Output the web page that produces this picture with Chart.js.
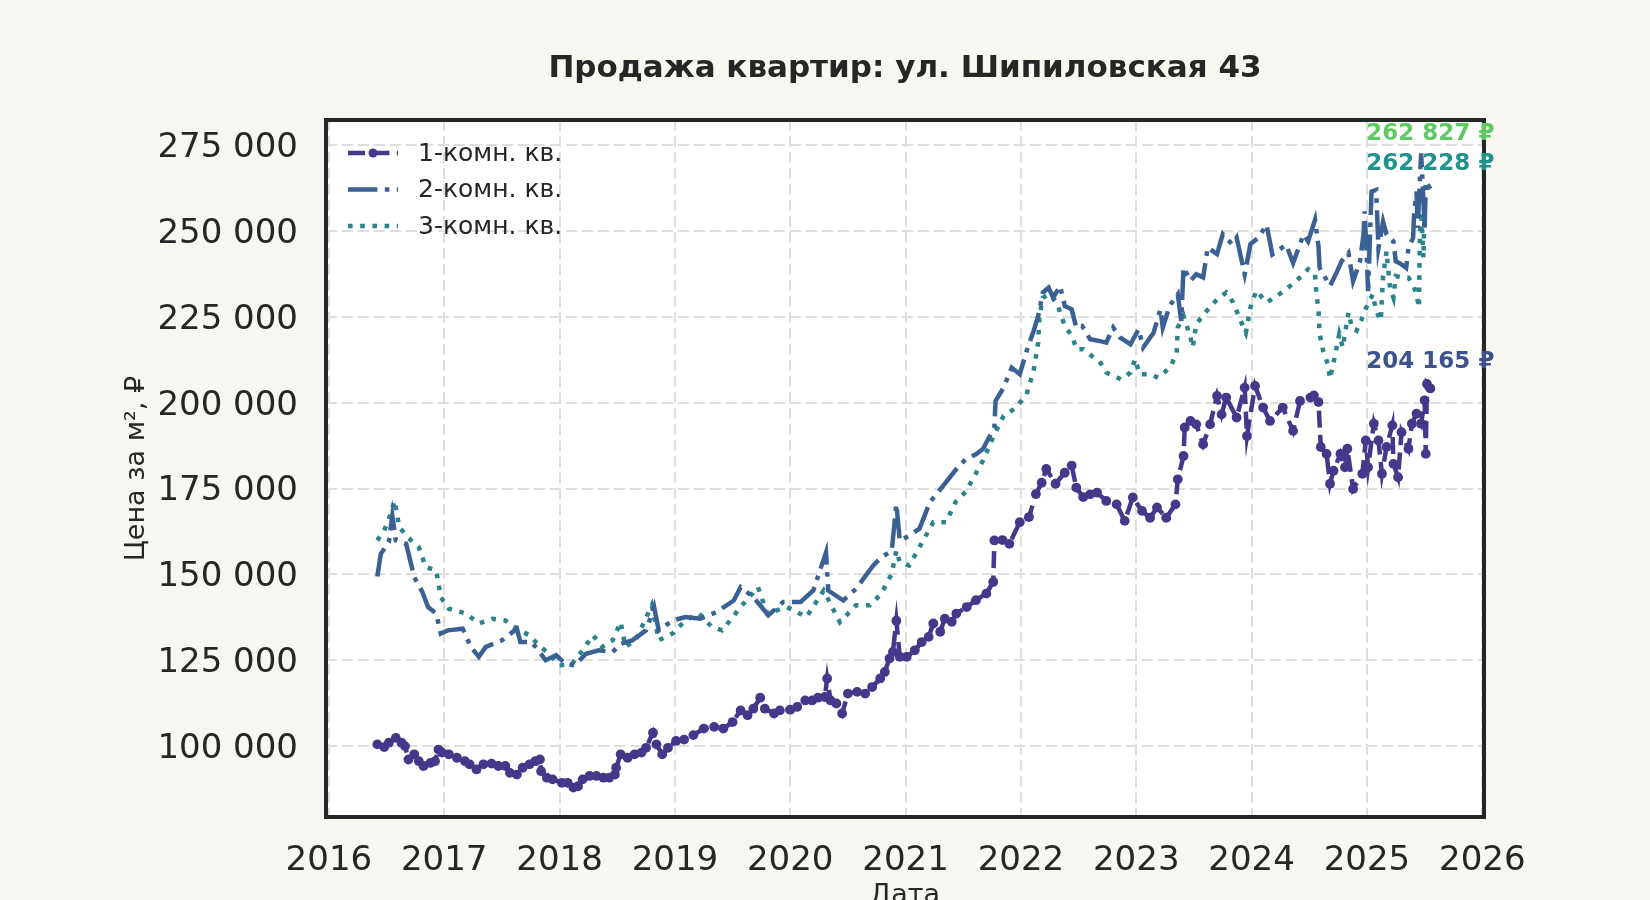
<!DOCTYPE html>
<html>
<head>
<meta charset="utf-8">
<script src="https://cdn.jsdelivr.net/npm/chart.js@4.4.1/dist/chart.umd.min.js"></script>
<style>
  html, body { margin: 0; padding: 0; background: #f7f6f1; }
  canvas { display: block; }
</style>
</head>
<body>
<canvas id="grafico" width="1650" height="900"></canvas>
<script>
// Даты (доля года) и цены за м² по типам квартир
const fechas1 = [2016.42, 2016.48, 2016.52, 2016.58, 2016.63, 2016.66, 2016.69, 2016.74, 2016.78, 2016.82,
  2016.88, 2016.92, 2016.95, 2016.98, 2017.04, 2017.11, 2017.18, 2017.22, 2017.28, 2017.34,
  2017.41, 2017.47, 2017.53, 2017.57, 2017.63, 2017.68, 2017.74, 2017.79, 2017.83, 2017.84,
  2017.89, 2017.94, 2018.02, 2018.07, 2018.12, 2018.16, 2018.20, 2018.26, 2018.32, 2018.38,
  2018.43, 2018.48, 2018.49, 2018.53, 2018.59, 2018.65, 2018.71, 2018.75, 2018.81, 2018.84,
  2018.89, 2018.94, 2019.01, 2019.08, 2019.16, 2019.25, 2019.34, 2019.42, 2019.50, 2019.57,
  2019.63, 2019.68, 2019.74, 2019.78, 2019.86, 2019.91, 2020.00, 2020.06, 2020.13, 2020.19,
  2020.24, 2020.30, 2020.32, 2020.35, 2020.40, 2020.45, 2020.50, 2020.58, 2020.65, 2020.71,
  2020.78, 2020.82, 2020.86, 2020.89, 2020.92, 2020.95, 2021.01, 2021.08, 2021.14, 2021.20,
  2021.24, 2021.30, 2021.34, 2021.40, 2021.44, 2021.53, 2021.61, 2021.70, 2021.76, 2021.77,
  2021.84, 2021.90, 2021.99, 2022.07, 2022.13, 2022.18, 2022.22, 2022.30, 2022.38, 2022.44,
  2022.48, 2022.54, 2022.60, 2022.66, 2022.74, 2022.83, 2022.90, 2022.97, 2023.05, 2023.12,
  2023.18, 2023.26, 2023.34, 2023.36, 2023.41, 2023.42, 2023.47, 2023.52, 2023.58, 2023.64,
  2023.70, 2023.74, 2023.78, 2023.87, 2023.94, 2023.96, 2024.03, 2024.10, 2024.16, 2024.27,
  2024.36, 2024.42, 2024.51, 2024.54, 2024.58, 2024.60, 2024.65, 2024.68, 2024.71, 2024.77,
  2024.81, 2024.83, 2024.88, 2024.96, 2024.99, 2025.01, 2025.06, 2025.10, 2025.13, 2025.17,
  2025.22, 2025.23, 2025.27, 2025.30, 2025.36, 2025.39, 2025.43, 2025.47, 2025.50, 2025.51,
  2025.52, 2025.55];
const precios1 = [100500, 99700, 101000, 102400, 101000, 100000, 96100, 97600, 95600, 94200,
  95100, 95600, 99000, 98100, 97600, 96600, 95600, 94700, 93200, 94700,
  94900, 94200, 94200, 92200, 91700, 93700, 94700, 95600, 96100, 92700,
  90800, 90300, 89300, 89300, 87900, 88300, 90300, 91300, 91300, 90800,
  90800, 91700, 93700, 97600, 96600, 97600, 98100, 99500, 103900, 100500,
  97600, 99500, 101500, 101900, 103200, 105100, 105600, 105100, 107000, 110400,
  109000, 110900, 114100, 110900, 109500, 110400, 110600, 111400, 113300, 113300,
  114100, 114300, 119700, 113300, 112400, 109500, 115300, 115800, 115300, 117200,
  119700, 121600, 125500, 127400, 136500, 126000, 126000, 127900, 130300, 131800,
  135700, 133300, 137100, 136200, 138600, 140500, 142500, 144400, 147800, 159900,
  160000, 158900, 165200, 166700, 173400, 176700, 180700, 176400, 179600, 181700,
  175300, 172500, 173300, 173800, 171400, 170400, 165600, 172400, 168500, 166500,
  169500, 166500, 170400, 177700, 184500, 192800, 194700, 193700, 187900, 193700,
  202000, 196600, 201500, 195700, 204400, 190300, 204900, 198600, 194700, 198600,
  191800, 200500, 201500, 202100, 200200, 187100, 185100, 176400, 180200, 185100,
  181200, 186600, 174900, 179300, 189000, 181200, 193900, 189000, 179300, 187100,
  193400, 182200, 178300, 191400, 186600, 193900, 196800, 193900, 200700, 185100,
  205500, 204165];

const fechas2 = [2016.42, 2016.45, 2016.52, 2016.55, 2016.58, 2016.67, 2016.74, 2016.81, 2016.86, 2016.93,
  2016.97, 2017.03, 2017.16, 2017.23, 2017.30, 2017.36, 2017.50, 2017.63, 2017.66, 2017.76,
  2017.88, 2017.97, 2018.05, 2018.13, 2018.23, 2018.34, 2018.46, 2018.53, 2018.63, 2018.75,
  2018.82, 2018.86, 2018.98, 2019.09, 2019.22, 2019.36, 2019.51, 2019.57, 2019.68, 2019.81,
  2019.94, 2020.09, 2020.20, 2020.31, 2020.33, 2020.46, 2020.57, 2020.72, 2020.79, 2020.88,
  2020.92, 2020.95, 2021.03, 2021.12, 2021.21, 2021.34, 2021.44, 2021.52, 2021.61, 2021.67,
  2021.77, 2021.78, 2021.85, 2021.92, 2021.99, 2022.05, 2022.11, 2022.15, 2022.19, 2022.24,
  2022.28, 2022.34, 2022.38, 2022.44, 2022.48, 2022.53, 2022.60, 2022.68, 2022.74, 2022.80,
  2022.86, 2022.95, 2023.02, 2023.06, 2023.15, 2023.21, 2023.23, 2023.29, 2023.36, 2023.39,
  2023.41, 2023.47, 2023.52, 2023.58, 2023.62, 2023.70, 2023.75, 2023.83, 2023.87, 2023.94,
  2023.99, 2024.06, 2024.13, 2024.18, 2024.30, 2024.36, 2024.45, 2024.49, 2024.55, 2024.58,
  2024.59, 2024.68, 2024.73, 2024.78, 2024.84, 2024.88, 2024.94, 2024.97, 2024.98, 2025.00,
  2025.01, 2025.04, 2025.08, 2025.10, 2025.14, 2025.17, 2025.23, 2025.25, 2025.30, 2025.34,
  2025.36, 2025.40, 2025.41, 2025.43, 2025.44, 2025.46, 2025.47, 2025.49, 2025.50, 2025.51,
  2025.55];
const precios2 = [149400, 156000, 159400, 167100, 159900, 158900, 149200, 144900, 140500, 138600,
  132800, 133700, 134200, 128900, 126000, 128900, 130800, 134200, 130300, 130300,
  125000, 126500, 124000, 123500, 126900, 127900, 127400, 129800, 130800, 133700,
  140500, 133700, 136600, 137600, 137100, 139000, 142400, 146300, 143400, 138100,
  142000, 142000, 145300, 156400, 145300, 142400, 145800, 152600, 155000, 156900,
  170500, 159800, 161300, 163300, 171000, 176400, 180700, 183500, 185000, 186500,
  192800, 200500, 204400, 210200, 208300, 215100, 220900, 225300, 232100, 233500,
  230600, 234000, 228200, 227200, 221900, 222400, 218500, 218000, 217500, 221900,
  219000, 217000, 221400, 216100, 220400, 227200, 221900, 228200, 231600, 223800,
  239400, 235500, 237400, 236500, 245200, 243300, 249100, 246200, 248100, 237400,
  246200, 248100, 251800, 243200, 246000, 240700, 249000, 247000, 253300, 245600,
  239300, 234000, 237400, 241200, 243600, 235400, 241200, 249000, 255700, 241200,
  232500, 261500, 262000, 245100, 252800, 249000, 247000, 241200, 240300, 239300,
  245100, 248000, 255700, 261500, 250900, 265400, 272600, 258600, 250000, 264400,
  262228];

const fechas3 = [2016.42, 2016.48, 2016.54, 2016.57, 2016.61, 2016.68, 2016.78, 2016.84, 2016.93, 2016.97,
  2017.04, 2017.19, 2017.30, 2017.42, 2017.53, 2017.65, 2017.74, 2017.82, 2017.91, 2018.00,
  2018.11, 2018.20, 2018.29, 2018.37, 2018.46, 2018.53, 2018.57, 2018.66, 2018.80, 2018.86,
  2018.98, 2019.09, 2019.21, 2019.32, 2019.41, 2019.57, 2019.72, 2019.80, 2019.97, 2020.14,
  2020.29, 2020.43, 2020.57, 2020.69, 2020.79, 2020.88, 2020.92, 2020.95, 2021.03, 2021.12,
  2021.24, 2021.35, 2021.44, 2021.52, 2021.67, 2021.77, 2021.85, 2021.96, 2022.05, 2022.11,
  2022.15, 2022.16, 2022.19, 2022.25, 2022.31, 2022.38, 2022.45, 2022.48, 2022.54, 2022.63,
  2022.68, 2022.74, 2022.87, 2022.95, 2022.99, 2023.03, 2023.12, 2023.19, 2023.29, 2023.35,
  2023.36, 2023.41, 2023.47, 2023.49, 2023.52, 2023.61, 2023.70, 2023.78, 2023.84, 2023.90,
  2023.95, 2023.99, 2024.04, 2024.13, 2024.22, 2024.30, 2024.39, 2024.49, 2024.55, 2024.56,
  2024.58, 2024.59, 2024.62, 2024.66, 2024.68, 2024.72, 2024.76, 2024.79, 2024.84, 2024.87,
  2024.91, 2024.95, 2024.98, 2025.01, 2025.05, 2025.08, 2025.12, 2025.14, 2025.17, 2025.20,
  2025.23, 2025.25, 2025.31, 2025.36, 2025.40, 2025.43, 2025.45, 2025.46, 2025.47, 2025.49,
  2025.50, 2025.51, 2025.55];
const precios3 = [159900, 162800, 168100, 171500, 163800, 160900, 157900, 152100, 151200, 143400,
  140000, 138600, 135700, 137100, 136600, 133700, 132300, 129300, 126900, 123500,
  124000, 127900, 132300, 128900, 130800, 136100, 128900, 130800, 141000, 130800,
  132800, 136600, 138600, 134700, 133700, 140500, 146300, 138600, 140500, 137600,
  145300, 136100, 141000, 141000, 144400, 150200, 157000, 153500, 152600, 157900,
  165200, 165200, 171500, 174000, 183100, 190800, 196200, 198600, 202500, 209300,
  217500, 224800, 230600, 231600, 229200, 222400, 219000, 215600, 215600, 213200,
  212200, 208800, 206800, 208800, 212700, 208300, 208300, 207300, 210200, 214100,
  221900, 225300, 219000, 216100, 222900, 226700, 230100, 232100, 229200, 224300,
  220400, 227700, 232600, 229200, 231100, 233100, 235500, 238900, 237400, 232500,
  226800, 220000, 215200, 211300, 207000, 213200, 220000, 216100, 226300, 221900,
  221000, 223900, 226800, 228700, 231600, 226800, 223900, 236900, 244100, 233500,
  230600, 236900, 236400, 236400, 234400, 231600, 227700, 248900, 255700, 242200,
  256700, 263400, 262827];

const nombres = ['1-комн. кв.', '2-комн. кв.', '3-комн. кв.'];
const anios = [2016, 2017, 2018, 2019, 2020, 2021, 2022, 2023, 2024, 2025, 2026];
const ticksPrecio = [100000, 125000, 150000, 175000, 200000, 225000, 250000, 275000];

const colores = ['#46378a', '#3b6194', '#2b848c'];
const coloresEtiqueta = ['#3b528b', '#21918c', '#5ec962'];
const trazos = [[17, 7.4], [29.4, 7.4, 4.6, 7.4], [4.6, 7.6]];
const desplazamientos = [26, 25, 53];
const fuente = '"DejaVu Sans", "Noto Sans", sans-serif';

function formatoMiles(v) {
  return String(Math.round(v)).replace(/\B(?=(\d{3})+(?!\d))/g, ' ');
}

function serie(fechas, precios) {
  return fechas.map((f, i) => ({ x: f, y: precios[i] }));
}

const series = [serie(fechas1, precios1), serie(fechas2, precios2), serie(fechas3, precios3)];

/* Fondo, marco, título, leyenda y etiquetas finales */
const decoracion = {
  id: 'decoracion',
  beforeDraw(chart) {
    const { ctx, chartArea: a } = chart;
    ctx.save();
    ctx.fillStyle = '#f7f6f1';
    ctx.fillRect(0, 0, chart.width, chart.height);
    ctx.fillStyle = '#ffffff';
    ctx.fillRect(a.left, a.top, a.right - a.left, a.bottom - a.top);
    ctx.restore();
  },
  afterDraw(chart) {
    const { ctx, chartArea: a } = chart;
    const xs = chart.scales.x, ys = chart.scales.y;
    ctx.save();
    // marco
    ctx.strokeStyle = '#262626';
    ctx.lineWidth = 4;
    ctx.setLineDash([]);
    ctx.strokeRect(a.left, a.top, a.right - a.left, a.bottom - a.top);

    // título
    ctx.fillStyle = '#262626';
    ctx.font = 'bold 31px ' + fuente;
    ctx.textAlign = 'center';
    ctx.textBaseline = 'middle';
    ctx.fillText('Продажа квартир: ул. Шипиловская 43', (a.left + a.right) / 2, 69);

    // leyenda
    ctx.textAlign = 'left';
    ctx.font = '25px ' + fuente;
    nombres.forEach((n, i) => {
      const y = 153 + i * 36.5;
      ctx.strokeStyle = colores[i];
      ctx.lineWidth = 4.6;
      ctx.lineCap = 'butt';
      ctx.setLineDash(trazos[i]);
      ctx.beginPath();
      ctx.moveTo(348, y);
      ctx.lineTo(398, y);
      ctx.stroke();
      ctx.setLineDash([]);
      if (i === 0) {
        ctx.fillStyle = colores[i];
        ctx.beginPath();
        ctx.arc(373, y, 4.5, 0, Math.PI * 2);
        ctx.fill();
      }
      ctx.fillStyle = '#262626';
      ctx.fillText(n, 418, y + 1);
    });

    // últimos valores
    ctx.textAlign = 'center';
    ctx.font = 'bold 23px ' + fuente;
    series.forEach((s, i) => {
      const ultimo = s[s.length - 1];
      ctx.fillStyle = coloresEtiqueta[i];
      ctx.fillText(formatoMiles(ultimo.y) + ' ₽',
        xs.getPixelForValue(ultimo.x), ys.getPixelForValue(ultimo.y) - desplazamientos[i]);
    });
    ctx.restore();
  }
};

var ctx = document.getElementById('grafico').getContext('2d');
new Chart(ctx, {
  type: 'line',
  data: {
    datasets: series.map((s, i) => ({
      label: nombres[i],
      data: s,
      borderColor: colores[i],
      backgroundColor: colores[i],
      borderWidth: 4.5,
      borderDash: trazos[i],
      borderCapStyle: 'butt',
      tension: 0,
      fill: false,
      pointRadius: i === 0 ? 4.9 : 0,
      pointBorderWidth: 0,
      pointBackgroundColor: colores[i]
    }))
  },
  options: {
    responsive: false,
    animation: false,
    events: [],
    layout: { padding: { top: 120, right: 166, left: 0, bottom: 0 } },
    plugins: { legend: { display: false }, title: { display: false }, tooltip: { enabled: false } },
    scales: {
      x: {
        type: 'linear',
        min: 2015.975,
        max: 2026.015,
        afterBuildTicks: (eje) => { eje.ticks = anios.map(v => ({ value: v })); },
        afterFit: (eje) => { eje.height = 83; },
        grid: { color: '#dedede', lineWidth: 2, drawTicks: false },
        border: { display: false, dash: [11, 5] },
        ticks: {
          padding: 24,
          color: '#262626',
          font: { family: fuente, size: 34 },
          maxRotation: 0,
          autoSkip: false,
          callback: (v) => String(v)
        },
        title: {
          display: true,
          text: 'Дата',
          color: '#262626',
          font: { family: fuente, size: 27 },
          padding: { top: 0, bottom: -12 }
        }
      },
      y: {
        type: 'linear',
        min: 79350,
        max: 282340,
        afterBuildTicks: (eje) => { eje.ticks = ticksPrecio.map(v => ({ value: v })); },
        afterFit: (eje) => { eje.width = 326; },
        grid: { color: '#dedede', lineWidth: 2, drawTicks: false },
        border: { display: false, dash: [11, 5] },
        ticks: {
          padding: 28,
          labelOffset: 3,
          color: '#262626',
          font: { family: fuente, size: 34 },
          callback: (v) => formatoMiles(v)
        },
        title: {
          display: true,
          text: 'Цена за м², ₽',
          color: '#262626',
          font: { family: fuente, size: 27 },
          padding: { top: 121, bottom: 0 }
        }
      }
    }
  },
  plugins: [decoracion]
});
</script>
</body>
</html>
